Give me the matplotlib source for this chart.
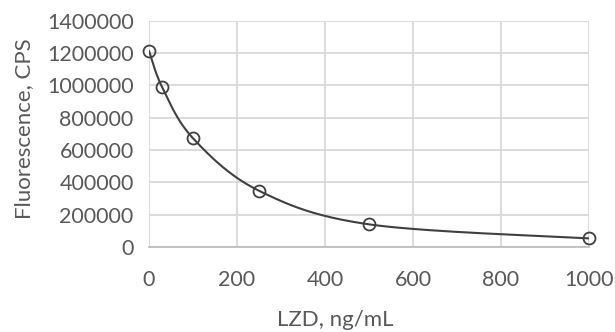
import numpy as np
import matplotlib
matplotlib.use("Agg")
import matplotlib.pyplot as plt

conc = [0, 30, 100, 250, 500, 1000]
fluor = [1214000, 988000, 672000, 347000, 139000, 52000]
xticks = [0, 200, 400, 600, 800, 1000]
yticks = [0, 200000, 400000, 600000, 800000, 1000000, 1200000, 1400000]

def excel_smooth(xs, ys, n=40):
    xs = np.asarray(xs, float); ys = np.asarray(ys, float)
    px, py = [xs[0]], [ys[0]]
    m = len(xs)
    for i in range(m - 1):
        p0 = (xs[max(i-1, 0)], ys[max(i-1, 0)])
        p1 = (xs[i], ys[i]); p2 = (xs[i+1], ys[i+1])
        p3 = (xs[min(i+2, m-1)], ys[min(i+2, m-1)])
        c1 = (p1[0] + (p2[0]-p0[0])/6, p1[1] + (p2[1]-p0[1])/6)
        c2 = (p2[0] - (p3[0]-p1[0])/6, p2[1] - (p3[1]-p1[1])/6)
        t = np.linspace(0, 1, n)[1:]
        bx = (1-t)**3*p1[0] + 3*(1-t)**2*t*c1[0] + 3*(1-t)*t**2*c2[0] + t**3*p2[0]
        by = (1-t)**3*p1[1] + 3*(1-t)**2*t*c1[1] + 3*(1-t)*t**2*c2[1] + t**3*p2[1]
        px.extend(bx); py.extend(by)
    return np.array(px), np.array(py)

plt.rcParams['font.family'] = ['Lato', 'DejaVu Sans']
fig = plt.figure(figsize=(6.15, 3.32), dpi=100)
ax = fig.add_axes([149/615, 1-246.8/332, (589-149)/615, (246.8-20.7)/332])

sx, sy = excel_smooth(conc, fluor)
ax.plot(sx, sy, color='#404040', lw=1.5, zorder=3, solid_capstyle='round')
ax.plot(conc, fluor, linestyle='none', marker='o', markersize=8.6,
        markerfacecolor='none', markeredgecolor='#404040', markeredgewidth=1.3, zorder=4, clip_on=False)

ax.set_xlim(0, 1000)
ax.set_ylim(0, 1400000)
ax.set_xticks(xticks)
ax.set_yticks(yticks)
ax.set_xticklabels([str(v) for v in xticks])
ax.set_yticklabels([str(v) for v in yticks])
ax.grid(True, color='#d9d9d9', lw=1.3)
ax.set_axisbelow(True)
for s in ['top', 'right', 'left']:
    ax.spines[s].set_visible(False)
ax.spines['bottom'].set_color('#bfbfbf')
ax.spines['bottom'].set_linewidth(1.3)
fs = 15.5
ax.tick_params(length=0, labelsize=fs, colors='#595959')
ax.tick_params(axis='y', pad=11)
ax.tick_params(axis='x', pad=17)
ax.set_xlabel('LZD, ng/mL', fontsize=16, color='#595959')
ax.set_ylabel('Fluorescence, CPS', fontsize=16, color='#595959')
ax.xaxis.set_label_coords((335 - 149) / 440, (246.8 - 310) / 226.1)
ax.yaxis.set_label_coords((34 - 149) / 440, (246.8 - 129) / 226.1)

fig.savefig('out.png', dpi=100)
